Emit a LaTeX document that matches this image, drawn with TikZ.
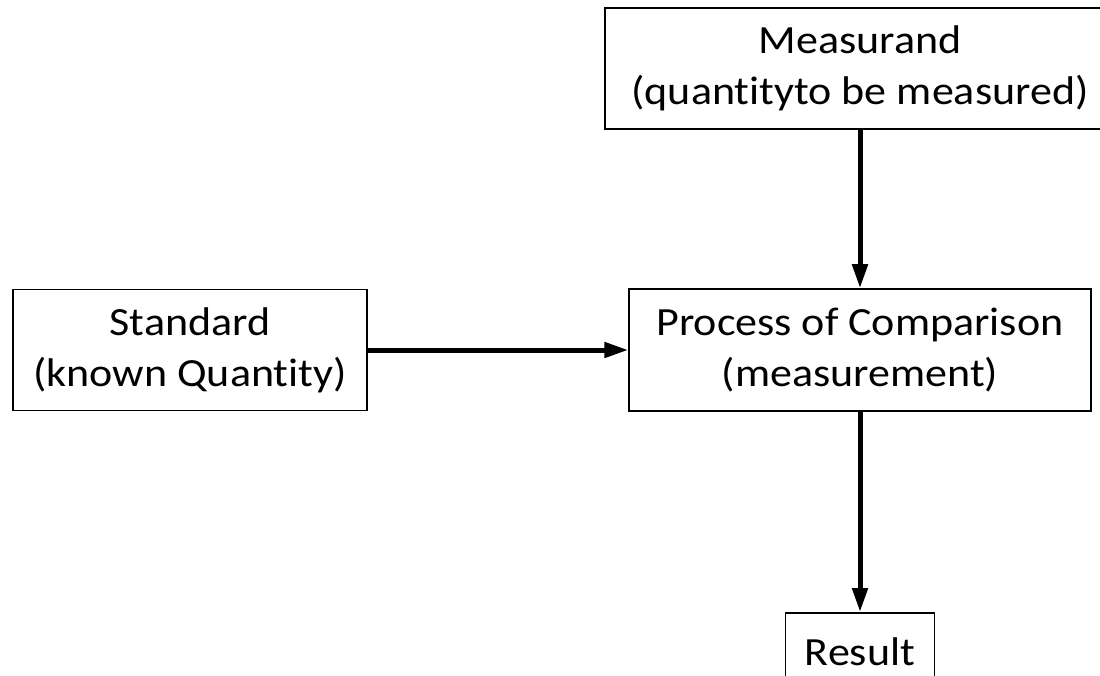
\documentclass[tikz,border=0pt]{standalone}
\usepackage{fontspec}
\setmainfont{Carlito}[FakeStretch=1.1,Ligatures=NoCommon]
\usetikzlibrary{arrows.meta}

\begin{document}
\begin{tikzpicture}[x=1pt,y=-1pt,
  box/.style={draw,line width=1.5pt,rectangle,align=center,inner sep=0pt,
    font=\fontsize{40}{51}\selectfont},
  arr/.style={line width=5pt,-{Triangle[length=24pt,width=15pt]}}]

  \useasboundingbox (0,0) rectangle (1100,676);
  \fill[white] (0,0) rectangle (1100,676);
  \clip (0,0) rectangle (1100,676);

  \node[box,minimum width=540pt,minimum height=121pt] (meas) at (875,68.5) {Measurand\hspace*{30pt}\\(quantityto be measured)\hspace*{30pt}};
  \node[box,minimum width=354pt,minimum height=121pt] (std) at (190,350) {Standard\\(known Quantity)};
  \node[box,minimum width=462pt,minimum height=122pt] (proc) at (860,350) {Process of Comparison\\(measurement)};
  \node[box,minimum width=149pt,minimum height=78pt,anchor=north] (res) at (860,612) {Result};

  \draw[arr] (meas.south -| proc.north) -- (proc.north);
  \draw[arr] (std) -- (proc);
  \draw[arr] (proc) -- (res);
\end{tikzpicture}
\end{document}
